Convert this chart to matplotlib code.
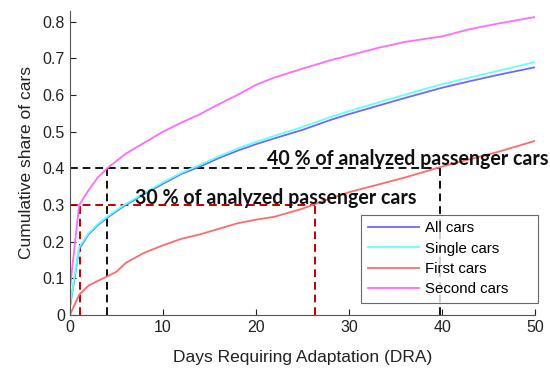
import matplotlib
matplotlib.use("Agg")
import matplotlib.pyplot as plt

# Data
days = [0, 1, 2, 3, 4, 5, 6, 8, 10, 12, 14, 16, 18, 20, 22, 25, 28, 30, 33, 36, 40, 43, 46, 50]
all_cars = [0.02, 0.18, 0.22, 0.245, 0.265, 0.283, 0.30, 0.33, 0.358, 0.385, 0.405, 0.428, 0.448, 0.466, 0.482, 0.505, 0.532, 0.548, 0.57, 0.592, 0.62, 0.638, 0.655, 0.676]
single_cars = [0.025, 0.185, 0.223, 0.248, 0.268, 0.286, 0.303, 0.333, 0.362, 0.388, 0.41, 0.433, 0.454, 0.472, 0.489, 0.513, 0.54, 0.556, 0.579, 0.601, 0.63, 0.648, 0.666, 0.69]
first_cars = [0.0, 0.055, 0.08, 0.093, 0.105, 0.118, 0.142, 0.17, 0.19, 0.208, 0.22, 0.235, 0.25, 0.26, 0.268, 0.29, 0.318, 0.335, 0.355, 0.375, 0.405, 0.425, 0.445, 0.475]
second_cars = [0.07, 0.30, 0.34, 0.375, 0.40, 0.42, 0.44, 0.47, 0.50, 0.525, 0.548, 0.575, 0.60, 0.628, 0.648, 0.672, 0.695, 0.708, 0.728, 0.745, 0.76, 0.78, 0.795, 0.813]

series_names = ["All cars", "Single cars", "First cars", "Second cars"]
series_colors = ["#6b6bff", "#66ffff", "#ff6b6b", "#ff6bff"]

# Annotation values
thr40 = 0.40
x40_second = 4.0
x40_first = 39.8
thr30 = 0.30
x30_second = 1.1
x30_first = 26.3
label40 = "40 % of analyzed passenger cars"
label30 = "30 % of analyzed passenger cars"

plt.rcParams["font.family"] = ["Liberation Sans", "DejaVu Sans"]

fig = plt.figure(figsize=(5.5, 3.71), dpi=100)
ax = fig.add_axes([0.127, 0.151, 0.846, 0.82])

# Reference dashed lines (behind curves & legend)
black = "#111111"
dred = "#c00000"
dash = (0, (4, 2.5))
ax.plot([0, x40_first], [thr40, thr40], ls=dash, color=black, lw=1.4, zorder=1)
ax.plot([x40_second, x40_second], [0, thr40], ls=dash, color=black, lw=1.4, zorder=1)
ax.plot([x40_first, x40_first], [0, thr40], ls=dash, color=black, lw=1.4, zorder=1)
ax.plot([0, x30_first], [thr30, thr30], ls=dash, color=dred, lw=1.4, zorder=1)
ax.plot([x30_second, x30_second], [0, thr30], ls=dash, color=dred, lw=1.4, zorder=1)
ax.plot([x30_first, x30_first], [0, thr30], ls=dash, color=dred, lw=1.4, zorder=1)

for ys, name, c in zip([all_cars, single_cars, first_cars, second_cars], series_names, series_colors):
    ax.plot(days, ys, color=c, lw=1.3, label=name, zorder=2)

ax.text(21.2, 0.409, label40, fontsize=14.1, fontweight="bold", family="Lato",
        ha="left", va="baseline", color="#111111", zorder=3, clip_on=False)
ax.text(7.0, 0.303, label30, fontsize=14.1, fontweight="bold", family="Lato",
        ha="left", va="baseline", color="#111111", zorder=3)

ax.set_xlim(0, 50)
ax.set_ylim(0, 0.83)
ax.set_xticks([0, 10, 20, 30, 40, 50])
ax.set_yticks([0, 0.1, 0.2, 0.3, 0.4, 0.5, 0.6, 0.7, 0.8])
ax.set_yticklabels(["0", "0.1", "0.2", "0.3", "0.4", "0.5", "0.6", "0.7", "0.8"])
ax.tick_params(direction="in", length=4, labelsize=11.5, colors="#222222")
ax.spines["top"].set_visible(False)
ax.spines["right"].set_visible(False)
for s in ["left", "bottom"]:
    ax.spines[s].set_color("#555555")
ax.set_xlabel("Days Requiring Adaptation (DRA)", fontsize=12.5, color="#222222", labelpad=11)
ax.set_ylabel("Cumulative share of cars", fontsize=12.5, color="#222222", labelpad=6)

leg = ax.legend(loc="lower left",
                bbox_to_anchor=(361 / 550, 1 - 303 / 371, 177 / 550, 88 / 371), bbox_transform=fig.transFigure,
                mode="expand", fontsize=10.8, frameon=True, fancybox=False,
                edgecolor="#444444", handlelength=3.4, borderpad=0.45, labelspacing=0.42, handletextpad=0.4,
                borderaxespad=0)
leg.get_frame().set_linewidth(0.8)
leg.set_zorder(5)

fig.savefig("out.png", dpi=100)
